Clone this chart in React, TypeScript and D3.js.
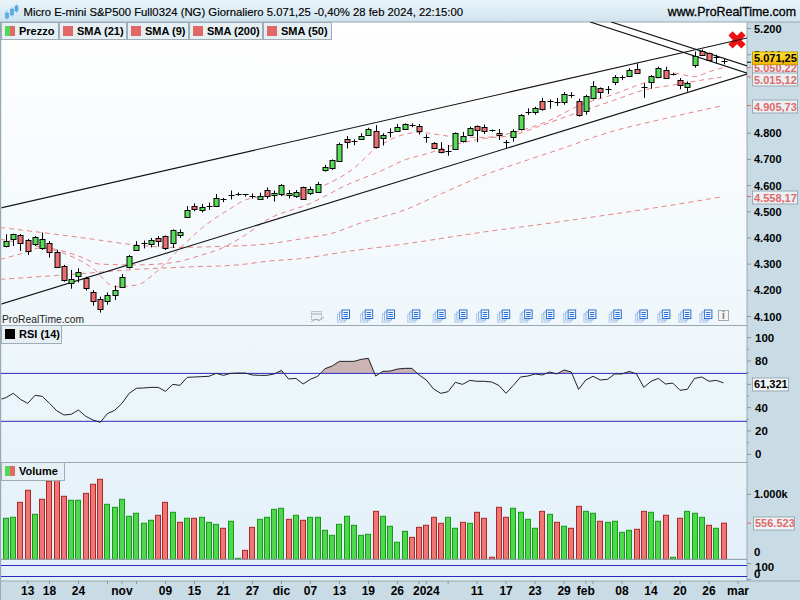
import * as d3 from "d3";

const opens = [
  4369, 4397, 4410, 4391, 4376, 4360, 4379, 4345, 4292, 4227,
  4256, 4248, 4192, 4165, 4160, 4183, 4214, 4288, 4355, 4379,
  4378, 4398, 4406, 4379, 4410, 4481, 4521, 4508, 4519, 4522,
  4545, 4563, 4567, 4567, 4560, 4550, 4582, 4563, 4567, 4564,
  4559, 4593, 4573, 4577, 4659, 4668, 4694, 4777, 4767, 4779,
  4795, 4807, 4781, 4801, 4807, 4817, 4830, 4826, 4786, 4761,
  4739, 4727, 4739, 4769, 4792, 4826, 4825, 4810, 4800, 4764,
  4784, 4817, 4880, 4882, 4922, 4919, 4917, 4918, 4945, 4924,
  4884, 4933, 4971, 4968, 4997, 5012, 5020, 5044, 4973, 4997,
  5016, 5043, 5026, 5002, 4975, 5062, 5113, 5105, 5091, 5075,
];
const closes = [
  4388, 4414, 4379, 4350, 4402, 4395, 4345, 4290, 4238, 4242,
  4269, 4210, 4160, 4130, 4181, 4200, 4250, 4330, 4374, 4382,
  4391, 4390, 4360, 4429, 4421, 4508, 4509, 4519, 4523, 4554,
  4547, 4564, 4568, 4563, 4556, 4559, 4561, 4572, 4601, 4572,
  4574, 4550, 4586, 4605, 4672, 4696, 4760, 4768, 4769, 4789,
  4816, 4746, 4793, 4803, 4823, 4835, 4833, 4810, 4782, 4742,
  4727, 4733, 4800, 4788, 4819, 4811, 4810, 4811, 4795, 4765,
  4807, 4870, 4882, 4896, 4891, 4922, 4919, 4949, 4947, 4871,
  4944, 4979, 4959, 4970, 5013, 5015, 5041, 5031, 4975, 5017,
  5048, 5012, 5025, 4985, 4991, 5094, 5098, 5080, 5086, 5071.25,
];
const highs = [
  4414, 4416, 4415, 4396, 4407, 4421, 4388, 4354, 4297, 4278,
  4284, 4252, 4201, 4176, 4192, 4218, 4262, 4335, 4388, 4390,
  4400, 4407, 4410, 4433, 4433, 4522, 4532, 4530, 4535, 4568,
  4553, 4581, 4574, 4568, 4570, 4573, 4593, 4581, 4606, 4583,
  4583, 4596, 4596, 4614, 4679, 4700, 4764, 4789, 4777, 4800,
  4821, 4831, 4800, 4819, 4835, 4838, 4838, 4835, 4796, 4766,
  4766, 4755, 4803, 4805, 4825, 4830, 4834, 4814, 4816, 4774,
  4815, 4873, 4895, 4901, 4935, 4929, 4935, 4957, 4957, 4932,
  4947, 4999, 4975, 4980, 5022, 5021, 5048, 5067, 4991, 5022,
  5054, 5054, 5031, 5011, 4998, 5112, 5120, 5108, 5100, 5084,
];
const lows = [
  4364, 4369, 4350, 4335, 4369, 4354, 4325, 4288, 4233, 4206,
  4230, 4199, 4141, 4115, 4145, 4163, 4211, 4283, 4350, 4360,
  4364, 4367, 4354, 4362, 4400, 4476, 4502, 4497, 4507, 4519,
  4537, 4547, 4561, 4558, 4550, 4545, 4550, 4539, 4560, 4551,
  4553, 4545, 4564, 4573, 4653, 4660, 4690, 4742, 4754, 4774,
  4792, 4742, 4753, 4784, 4805, 4815, 4823, 4795, 4764, 4739,
  4723, 4714, 4736, 4764, 4789, 4766, 4797, 4806, 4774, 4742,
  4768, 4810, 4870, 4871, 4886, 4894, 4904, 4909, 4935, 4863,
  4871, 4929, 4933, 4950, 4984, 5003, 5016, 5031, 4935, 4970,
  5013, 5011, 5021, 4968, 4959, 5050, 5095, 5077, 5067, 5063,
];

// [bar index, value], they run in from the left edge
const sma9: [number, number][] = [
  [-0.8, 4395], [5, 4364], [8, 4341], [12, 4284], [15, 4214], [18, 4220], [21, 4277], [24, 4360],
  [27, 4437], [31, 4513], [33, 4545], [36, 4560], [40, 4565], [44, 4602], [48, 4666], [51, 4742],
  [54, 4787], [57, 4803], [60, 4793], [62, 4786], [66, 4784], [70, 4803], [75, 4849], [79, 4905],
  [84, 4950], [88, 4992], [90, 5010], [92, 5030], [95, 5016], [97, 5035], [99, 5050.22],
];
const sma21: [number, number][] = [
  [-0.8, 4318], [2, 4339], [5, 4363], [10, 4331], [13, 4300], [18, 4297], [23, 4306], [27, 4335],
  [30, 4364], [33, 4411], [36, 4469], [42, 4532], [47, 4602], [52, 4659], [55, 4698], [58, 4721],
  [62, 4757], [66, 4780], [70, 4793], [74, 4831], [78, 4870], [84, 4927], [88, 4965], [92, 4984],
  [96, 5003], [99, 5015.12],
];
const sma50: [number, number][] = [
  [-0.8, 4440], [4, 4424], [11, 4399], [18, 4373], [23, 4364], [29, 4367], [36, 4377], [41, 4398],
  [45, 4418], [49, 4458], [55, 4507], [60, 4568], [66, 4640], [72, 4698], [77, 4744], [82, 4793],
  [92, 4863], [99, 4905.73],
];
const sma200: [number, number][] = [
  [-0.8, 4242], [4, 4251], [11, 4265], [18, 4280], [25, 4289], [32, 4297], [36, 4311], [41, 4322],
  [47, 4348], [55, 4377], [66, 4423], [73, 4449], [83, 4488], [92, 4526], [99, 4558.17],
];

// channel drawn on the chart, [bar index, price] end points
const trendLines: [number, number][][] = [
  [[-0.83, 4514], [102.3, 5164]],
  [[-0.83, 4146], [102.3, 5026]],
  [[80.6, 5225], [102.3, 5029]],
  [[83.5, 5225], [102.3, 5057]],
];

const rsiValues = [
  48.6, 52.3, 47.1, 43.7, 50.6, 49.7, 43.7, 37.4, 33.7, 34.3,
  38, 32.6, 29.4, 27.4, 34.9, 37.7, 43.7, 52.3, 56.6, 56.9,
  57.4, 57.4, 54, 60, 59.1, 66, 66.3, 66.6, 66.9, 69.4,
  67.7, 69.4, 69.7, 69.7, 68, 67.7, 67.7, 68.9, 72, 64.6,
  65.1, 60.3, 64.3, 66.9, 73.4, 75.7, 79.7, 79.7, 79.7, 81.4,
  82.3, 67.1, 71.1, 71.4, 73.1, 73.7, 73.7, 68, 63.7, 56,
  52.3, 53.7, 61.7, 60, 63.4, 62.6, 62.6, 62, 59.1, 52.3,
  59.1, 66.3, 67.1, 68.9, 68, 70.6, 68.9, 72.3, 70.6, 55.7,
  63.7, 66.9, 63.7, 64.3, 68.9, 68.9, 71.1, 68.9, 57.4, 62.6,
  65.1, 60.3, 61.1, 54.9, 55.7, 65.1, 66.3, 62.6, 63.4, 61.321,
];
const rsiAtLeftEdge = 47.1;
const rsiLevels = [69.4, 28.3];

const volumes = [
  631, 646, 877, 1062, 692, 923, 1200, 1272, 969, 908,
  908, 1015, 1154, 1231, 846, 800, 923, 662, 708, 554,
  600, 677, 877, 723, 569, 631, 631, 646, 569, 538,
  477, 585, 15, 138, 492, 615, 646, 769, 785, 615,
  677, 600, 646, 646, 446, 369, 538, 662, 523, 369,
  385, 738, 662, 508, 262, 431, 338, 492, 523, 646,
  554, 646, 477, 569, 554, 723, 631, 31, 800, 646,
  785, 723, 615, 477, 738, 692, 569, 508, 477, 815,
  738, 708, 585, 569, 585, 415, 446, 462, 738, 723,
  585, 677, 31, 631, 738, 708, 646, 523, 477, 556.523,
];
const volumeSides =
  "ggrrgrrrrg" + "grrrgggggg" + "grrgrgrggg" + "rggrrggggr" + "grgggggggg" +
  "grggggrrrr" + "rggrgrrrrr" + "ggggrgrgrr" + "ggrggggrrg" + "grgrgggrgr";

const dateTicks: [number, string][] = [
  [3, "13"], [6, "18"], [10, "24"], [16, "nov"], [22, "09"], [26, "15"], [30, "21"], [34, "27"],
  [38, "dic"], [42, "07"], [46, "13"], [50, "19"], [54, "26"], [58, "2024"], [65, "11"], [69, "17"],
  [73, "23"], [77, "29"], [80, "feb"], [85, "08"], [89, "14"], [93, "20"], [97, "26"], [101, "mar"],
];
const unlabeledTicks = [14, 18, 57, 61, 81];
const priceTicks = [4100, 4200, 4300, 4400, 4500, 4600, 4700, 4800, 5100, 5200];
const rsiTicks = [0, 20, 40, 60, 80, 100];
const rsiLabels = [0, 20, 40, 80, 100];
const eventBars = [46.5, 49.7, 52.7, 56.2, 59.7, 62.7, 65.7, 68.6, 71.7, 74.7, 77.7, 80.5, 84, 87.6, 90.7, 93.6, 96.5];
const legendTabs = ["SMA (21)", "SMA (9)", "SMA (200)", "SMA (50)"];
const tabWidths = [68, 62, 74, 69];

const FONT = "'Liberation Sans', Arial, sans-serif";
const RED = "#e26868";
const plotRight = 747;

const x = d3.scaleLinear().domain([0, 99]).range([6, 723.5]);
const yPrice = d3.scaleLinear().domain([4100, 5200]).range([316.5, 28.5]);
const yRsi = d3.scaleLinear().domain([0, 100]).range([454.3, 337.7]);
const yVol = d3.scaleLinear().domain([0, 1000]).range([559.3, 494.3]);

const fmtIt = (v: number, digits: number) =>
  v.toFixed(digits).replace(".", ",").replace(/\B(?=(\d{3})(?!\d))/g, ".");

const smaLine = d3
  .line<[number, number]>()
  .x((d) => x(d[0]))
  .y((d) => yPrice(d[1]))
  .curve(d3.curveMonotoneX);

const rsiData: [number, number][] = [
  [-0.8, rsiAtLeftEdge],
  ...rsiValues.map((v, i) => [i, v] as [number, number]),
];
const rsiLine = d3
  .line<[number, number]>()
  .x((d) => x(d[0]))
  .y((d) => yRsi(d[1]));
const rsiArea = d3
  .area<[number, number]>()
  .x((d) => x(d[0]))
  .y0(yRsi(rsiLevels[0]))
  .y1((d) => yRsi(d[1]));

const ValueBox = ({ y, w, text, bx = 752 }: { y: number; w: number; text: string; bx?: number }) => (
  <g>
    <rect x={bx + 0.5} y={y - 6.5} width={w} height={13} fill="#e9f1f5" stroke="#9aa9b2" />
    <text x={bx + 2} y={y + 4} fontSize={11} fontWeight="bold" fill={RED}>
      {text}
    </text>
  </g>
);

const DocIcon = ({ cx }: { cx: number }) => (
  <g fill="#f4f9fd">
    <rect x={cx - 5.5} y={314} width={7} height={8} stroke="#a9c4ea" />
    <rect x={cx - 3.5} y={312} width={7} height={8} stroke="#8fb2e6" />
    <rect x={cx - 1} y={310} width={7.5} height={8.5} stroke="#2a6fd0" />
    <path
      d={`M${cx + 0.5} 312.5h4.5M${cx + 0.5} 314.5h4.5M${cx + 0.5} 316.5h4.5`}
      stroke="#2a6fd0"
      fill="none"
    />
  </g>
);

const Tab = ({ left, top, w, h, label, swatch }: { left: number; top: number; w: number; h: number; label: string; swatch: "both" | "red" | "black" }) => (
  <g>
    <rect x={left + 0.5} y={top + 0.5} width={w} height={h} fill="#e6f0f4" stroke="#9fadb6" />
    {swatch === "both" && (
      <>
        <rect x={left + 4} y={top + 4} width={5} height={10} fill="#56d856" />
        <rect x={left + 9} y={top + 4} width={5} height={10} fill={RED} />
      </>
    )}
    {swatch === "red" && <rect x={left + 4} y={top + 4} width={10} height={10} fill={RED} />}
    {swatch === "black" && <rect x={left + 4} y={top + 4} width={10} height={10} fill="#000" />}
    <text x={left + 18} y={top + 13} fontSize={11} fontWeight="bold" fill="#000">
      {label}
    </text>
  </g>
);

export default function App() {
  let tabLeft = 59;
  return (
    <div style={{ position: "fixed", left: 0, top: 0 }}>
      <svg width={800} height={600} fontFamily={FONT} style={{ display: "block" }}>
        <defs>
          <linearGradient id="bg" x1="0" x2="0" y1="0" y2="1">
            <stop offset="0" stopColor="#ffffff" />
            <stop offset="1" stopColor="#e2f0f8" />
          </linearGradient>
          <linearGradient id="head" x1="0" x2="0" y1="0" y2="1">
            <stop offset="0" stopColor="#eaf5fa" />
            <stop offset="1" stopColor="#cfe3ee" />
          </linearGradient>
          <linearGradient id="gold" x1="0" x2="0" y1="0" y2="1">
            <stop offset="0" stopColor="#ffe23a" />
            <stop offset="1" stopColor="#f2b600" />
          </linearGradient>
          <clipPath id="plot">
            <rect x={1.5} y={22} width={plotRight - 1.5} height={303} />
          </clipPath>
          <clipPath id="overbought">
            <rect x={1.5} y={326} width={plotRight - 1.5} height={yRsi(rsiLevels[0]) - 326} />
          </clipPath>
          <clipPath id="rsiPane">
            <rect x={1.5} y={326} width={plotRight - 1.5} height={136} />
          </clipPath>
        </defs>

        <rect width={800} height={600} fill="#c9dbe5" />
        <rect x={1.5} y={22} width={plotRight - 1.5} height={559} fill="url(#bg)" />
        <rect width={800} height={22} fill="url(#head)" />
        <path d="M0.5 22V600M747 22V581M0 325.5H747M0 462.5H747M0 559.5H747M0 581H800M0 22H800" stroke="#98a8b2" fill="none" />

        {/* header */}
        <g fill="#55b0ee" stroke="#3a90d8" strokeWidth={0.5}>
          <path d="M7 10v10M12 7v10M16.500 4v9" stroke="#4aa4e8" fill="none" />
          <rect x={5.500} y={13} width={3} height={5} />
          <rect x={10.500} y={9} width={3} height={6} />
          <rect x={15} y={6} width={3} height={5} />
        </g>
        <text x={23.500} y={16} fontSize={11.32} fill="#000" stroke="#000" strokeWidth={0.15}>
          Micro E-mini S&amp;P500 Full0324 (NG) Giornaliero 5.071,25 -0,40% 28 feb 2024, 22:15:00
        </text>
        <text x={796} y={16} fontSize={12.4} textAnchor="end" fill="#000" stroke="#000" strokeWidth={0.3}>
          www.ProRealTime.com
        </text>

        <Tab left={1} top={22} w={57} h={17} label="Prezzo" swatch="both" />
        {legendTabs.map((label, i) => {
          const left = tabLeft;
          tabLeft += tabWidths[i];
          return <Tab key={label} left={left} top={22} w={tabWidths[i] - 1} h={17} label={label} swatch="red" />;
        })}

        {/* price pane */}
        <g clipPath="url(#plot)">
          {[sma9, sma21, sma50, sma200].map((s, i) => (
            <path key={i} d={smaLine(s) ?? ""} fill="none" stroke={RED} strokeOpacity={0.8} strokeWidth={1} strokeDasharray="5 4" />
          ))}
          <path
            d={`M${x(99) + 7} ${yPrice(5181)}l13 13M${x(99) + 20} ${yPrice(5181)}l-13 13`}
            stroke="#ee1111"
            strokeWidth={6}
            fill="none"
          />
          {trendLines.map((t, i) => (
            <line key={i} x1={x(t[0][0])} y1={yPrice(t[0][1])} x2={x(t[1][0])} y2={yPrice(t[1][1])} stroke="#111" strokeWidth={1.100} />
          ))}
          {opens.map((o, i) => {
            const c = closes[i];
            const cx = Math.round(x(i)) + 0.5;
            const top = Math.round(yPrice(Math.max(o, c))) + 0.5;
            const bottom = Math.round(yPrice(Math.min(o, c))) + 0.5;
            const flat = bottom - top < 2;
            return (
              <g key={i}>
                <line x1={cx} x2={cx} y1={yPrice(highs[i])} y2={yPrice(lows[i])} stroke="#000" />
                {flat ? (
                  <line x1={cx - 3} x2={cx + 3} y1={top} y2={top} stroke="#000" />
                ) : (
                  <rect x={cx - 2.500} y={top} width={5} height={bottom - top} fill={c >= o ? "#57dc57" : "#ec6f6f"} stroke="#000" />
                )}
              </g>
            );
          })}
        </g>
        <text x={2} y={323} fontSize={10.3} fill="#222">
          ProRealTime.com
        </text>
        <g>
          <rect x={311.500} y={311.500} width={10} height={8} fill="#eef3f6" stroke="#a5aeb4" strokeDasharray="2 1" />
          <path d="M311.500 314H321.500" stroke="#a5aeb4" />
          <path d="M311 322l5 -3l3 2l5 -4" stroke="#a5aeb4" fill="none" />
        </g>
        {eventBars.map((b) => (
          <DocIcon key={b} cx={x(b)} />
        ))}
        <rect x={718.500} y={310.500} width={10} height={10} fill="#f2f6f8" stroke="#a8a8a8" />
        <text x={723.500} y={319} fontSize={10} fontWeight="bold" textAnchor="middle" fill="#777">
          i
        </text>

        {/* price axis */}
        {priceTicks.map((p) => (
          <g key={p}>
            <line x1={747} x2={751} y1={yPrice(p)} y2={yPrice(p)} stroke="#8a98a2" />
            <text x={754} y={yPrice(p) + 4} fontSize={11} fontWeight="bold" fill="#000">
              {fmtIt(p, 0)}
            </text>
          </g>
        ))}
        {[5050.22, 5015.12, 4905.73, 4558.17].map((p) => (
          <line key={p} x1={747} x2={751} y1={yPrice(p)} y2={yPrice(p)} stroke={RED} />
        ))}
        <line x1={747} x2={751} y1={yPrice(5071.25)} y2={yPrice(5071.25)} stroke="#000" />
        <ValueBox y={68} w={45} text={fmtIt(5050.22, 2)} />
        <ValueBox y={79.500} w={45} text={fmtIt(5015.12, 2)} />
        <ValueBox y={106.500} w={45} text={fmtIt(4905.73, 2)} />
        <ValueBox y={197.500} w={45} text={fmtIt(4558.17, 2)} />
        <rect x={752.500} y={52} width={45} height={12.500} fill="url(#gold)" stroke="#c9a000" />
        <text x={754} y={62} fontSize={11} fontWeight="bold" fill="#000">
          {fmtIt(5071.25, 2)}
        </text>

        {/* RSI pane */}
        <path d={rsiArea(rsiData) ?? ""} fill="#cdb4b4" clipPath="url(#overbought)" />
        {rsiLevels.map((l) => (
          <line key={l} x1={1} x2={plotRight} y1={yRsi(l)} y2={yRsi(l)} stroke="#2a2ac4" />
        ))}
        <path d={rsiLine(rsiData) ?? ""} fill="none" stroke="#222" strokeWidth={1} clipPath="url(#rsiPane)" />
        <Tab left={1} top={325} w={60} h={18} label="RSI (14)" swatch="black" />
        {d3.range(0, 101, 10).map((t) => (
          <line key={t} x1={747} x2={rsiTicks.includes(t) ? 751 : 749} y1={yRsi(t)} y2={yRsi(t)} stroke="#8a98a2" />
        ))}
        {rsiLabels.map((t) => (
          <text key={t} x={755} y={yRsi(t) + 4} fontSize={11.5} fontWeight="bold" fill="#000">
            {t}
          </text>
        ))}
        <rect x={752.500} y={378} width={36} height={13} fill="#f2f6f8" stroke="#9aa9b2" />
        <text x={754} y={388} fontSize={11} fontWeight="bold" fill="#000">
          {fmtIt(rsiValues[99], 3)}
        </text>

        {/* volume pane */}
        {volumes.map((v, i) => {
          const up = volumeSides[i] === "g";
          const cx = Math.round(x(i));
          return (
            <rect
              key={i}
              x={cx - 2.500}
              y={Math.max(yVol(v), 462)}
              width={5}
              height={yVol(0) - Math.max(yVol(v), 462)}
              fill={up ? "#4fd84f" : "#f07575"}
              stroke={up ? "#169a16" : "#a82828"}
            />
          );
        })}
        <path d={`M0 ${yVol(0)}H747`} stroke="#98a8b2" />
        <Tab left={1} top={462} w={63} h={18} label="Volume" swatch="both" />
        <line x1={747} x2={751} y1={yVol(1000)} y2={yVol(1000)} stroke="#8a98a2" />
        <text x={754} y={yVol(1000) + 4} fontSize={11} fontWeight="bold" fill="#000">
          1.000k
        </text>
        <text x={754} y={556} fontSize={11.5} fontWeight="bold" fill="#000">
          0
        </text>
        <line x1={747} x2={751} y1={yVol(556.523)} y2={yVol(556.523)} stroke={RED} />
        <rect x={753.500} y={517} width={41} height={13} fill="#eef4f7" stroke="#9aa9b2" />
        <text x={755} y={527} fontSize={11} fontWeight="bold" fill={RED}>
          556.523
        </text>

        {/* bottom strip */}
        <path d="M1 565.500H747M1 576.500H747" stroke="#2a2ac4" />
        <path d="M747 563.500H751M747 579.500H751" stroke="#8a98a2" />
        <text x={755} y={571} fontSize={11.5} fontWeight="bold" fill="#000">
          100
        </text>
        <text x={754} y={577.500} fontSize={11.5} fontWeight="bold" fill="#000">
          0
        </text>

        {/* date axis */}
        {dateTicks.map(([b, label]) => (
          <g key={`${b}${label}`}>
            <line x1={x(b)} x2={x(b)} y1={581} y2={584} stroke="#8a98a2" />
            <text x={x(b)} y={595} fontSize={12} fontWeight="bold" textAnchor="middle" fill="#000">
              {label}
            </text>
          </g>
        ))}
        {unlabeledTicks.map((b) => (
          <line key={b} x1={x(b)} x2={x(b)} y1={581} y2={584} stroke="#8a98a2" />
        ))}
      </svg>
    </div>
  );
}
